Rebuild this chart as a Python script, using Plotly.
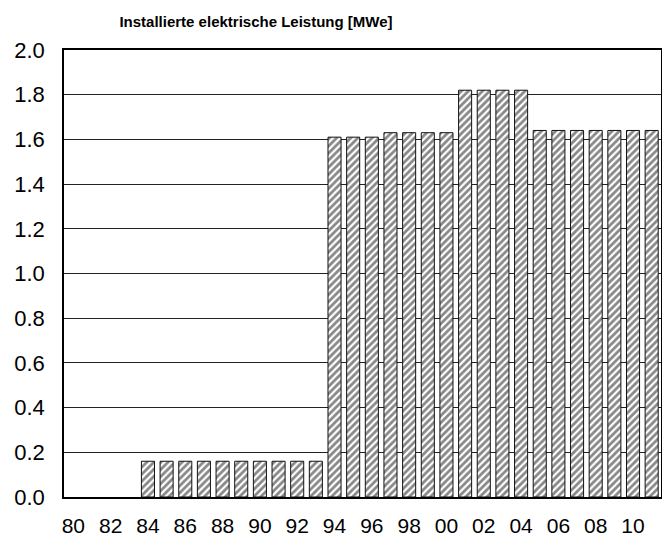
import plotly.graph_objects as go

# Installed electrical capacity per year, 1980-2011 (no plant before 1984)
years = [f"{y % 100:02d}" for y in range(1980, 2012)]
leistung_mwe = (
    [None, None, None, None]                 # 80-83
    + [0.16] * 10                            # 84-93
    + [1.61, 1.61, 1.61]                     # 94-96
    + [1.63, 1.63, 1.63, 1.63]               # 97-00
    + [1.82, 1.82, 1.82, 1.82]               # 01-04
    + [1.64, 1.64, 1.64, 1.64, 1.64, 1.64, 1.64]  # 05-11
)
x_ticks = years[::2]
y_ticks = [0.0, 0.2, 0.4, 0.6, 0.8, 1.0, 1.2, 1.4, 1.6, 1.8, 2.0]

fig = go.Figure(
    go.Bar(
        x=years,
        y=leistung_mwe,
        marker=dict(
            color="white",
            line=dict(color="#111111", width=1),
            pattern=dict(shape="/", fgcolor="#111111", bgcolor="white",
                         size=5, solidity=0.55),
        ),
        width=0.7,
    )
)

fig.update_layout(
    width=662,
    height=537,
    margin=dict(l=64, r=1, t=50, b=40),
    paper_bgcolor="white",
    plot_bgcolor="white",
    showlegend=False,
    font=dict(family="Liberation Sans, Arial, sans-serif", color="black"),
    title=dict(
        text="<b>Installierte elektrische Leistung [MWe]</b>",
        font=dict(size=15, color="black"),
        x=256 / 662, xref="container", xanchor="center",
        y=1 - 22 / 537, yref="container", yanchor="middle",
    ),
)

fig.update_xaxes(
    type="category",
    tickvals=x_ticks,
    ticktext=x_ticks,
    tickfont=dict(size=21),
    ticks="",
    ticklabelstandoff=9,
    automargin=False,
    showgrid=False,
    showline=True,
    linecolor="black",
    linewidth=1.5,
    mirror=True,
)

fig.update_yaxes(
    range=[0, 2.0],
    tickvals=y_ticks,
    ticktext=[f"{v:.1f}" for v in y_ticks],
    tickfont=dict(size=22),
    ticks="",
    ticklabelstandoff=13,
    automargin=False,
    showgrid=True,
    gridcolor="#222222",
    gridwidth=1,
    zeroline=False,
    showline=True,
    linecolor="black",
    linewidth=1.5,
    mirror=True,
)

fig.write_html("out.html")
